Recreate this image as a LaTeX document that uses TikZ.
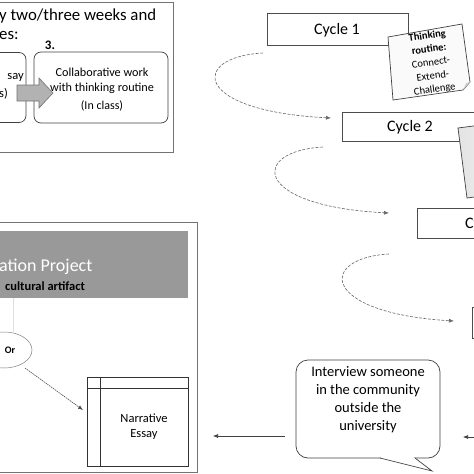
\documentclass[tikz,border=0pt]{standalone}
\usepackage{fontspec}
\setmainfont{Carlito}
\usetikzlibrary{arrows.meta,shapes.geometric}
\begin{document}
\begin{tikzpicture}[x=1pt,y=-1pt,
  outerbox/.style={draw=black!55,line width=0.9pt},
  innerbox/.style={draw=black!75,line width=0.7pt,rounded corners=7pt,fill=white},
  cyclebox/.style={draw=black!70,line width=0.9pt,fill=white},
  loop/.style={draw=black!60,line width=0.6pt,dash pattern=on 3pt off 1.5pt,-{Latex[length=5pt,width=4pt]}},
  plainarrow/.style={draw=black!75,line width=0.6pt,-{Latex[length=5pt,width=4pt]}},
  note/.style={draw=black!75,line width=0.7pt,fill=gray!4},
  txt/.style={inner sep=0pt,align=center}]
\useasboundingbox (0,0) rectangle (474,474);
\clip (0,0) rectangle (474,474);

% ---------- top-left panel ----------
\draw[outerbox] (-5,2) rectangle (173,152);
\node[txt,anchor=west,font=\fontsize{16.8}{20}\selectfont] (t1) at (-1,16) {y two/three weeks and};
\node[txt,anchor=west,font=\fontsize{16.8}{20}\selectfont] (t2) at (-1,35) {es:};
\node[txt,font=\bfseries\fontsize{13}{15}\selectfont] (n3) at (50,45) {3.};
\node[innerbox,minimum width=50pt,minimum height=70pt] (leftbox) at (1,87.5) {};
\node[txt,anchor=east,font=\fontsize{12.5}{14}\selectfont] (say) at (24,77) {say};
\node[txt,anchor=east,font=\fontsize{12.5}{14}\selectfont] (ss) at (8,94) {s)};
\node[innerbox,minimum width=134pt,minimum height=71pt] (collab) at (101,87.5) {};
\node[txt,font=\fontsize{12.2}{15}\selectfont] (collabtxt) at (102,80.5) {Collaborative work\\with thinking routine};
\node[txt,font=\fontsize{12}{14}\selectfont] (inclass) at (102,106) {(In class)};
\draw[draw=black!55,fill=gray!60,line width=0.6pt]
  (17,85) -- (39,85) -- (39,78) -- (53,93) -- (39,108) -- (39,101) -- (17,101) -- cycle;

% ---------- cycles ----------
\node[cyclebox,minimum width=141pt,minimum height=32pt] (c1) at (337.5,29) {};
\node[txt,font=\fontsize{16}{18}\selectfont] (c1t) at (337,30) {Cycle 1};
\draw[note] (388,37) -- (462,24) -- (470,82) -- (463,90) -- (393,100) -- cycle;
\fill[gray!35] (470,82) -- (463,90) -- (466,83) -- cycle;
\node[txt,rotate=8,font=\fontsize{10.5}{13.5}\selectfont] (note1) at (431,63)
  {\textbf{Thinking}\\\textbf{routine:}\\Connect-\\Extend-\\Challenge};

\node[cyclebox,minimum width=136pt,minimum height=29pt] (c2) at (410,126.5) {};
\node[txt,font=\fontsize{16}{18}\selectfont] (c2t) at (410,127) {Cycle 2};
\shade[left color=gray!22,right color=white,draw=black!75,line width=0.7pt]
  (458,128) -- (535,118) -- (545,188) -- (467,198) -- cycle;

\node[cyclebox,minimum width=138pt,minimum height=30pt] (c3) at (486,223) {};
\node[txt,font=\fontsize{16}{18}\selectfont] (c3t) at (488,224) {Cycle 3};

\node[cyclebox,minimum width=138pt,minimum height=31pt] (c4) at (541,322.5) {};

\coordinate (s1) at (263,53);  \coordinate (e1) at (331,118);
\coordinate (s2) at (323,147); \coordinate (e2) at (389,213);
\coordinate (s3) at (389,254); \coordinate (e3) at (454,321);
\draw[loop] (s1) .. controls (190,57) and (192,111) .. (e1);
\draw[loop] (s2) .. controls (250,151) and (252,206) .. (e2);
\draw[loop] (s3) .. controls (318,258) and (320,313) .. (e3);

% ---------- callout ----------
\node[draw=black!75,line width=0.7pt,rounded corners=12pt,fill=white,
      minimum width=144pt,minimum height=98pt] (callout) at (368,409) {};
\draw[white,line width=1.4pt] (381,458) -- (414,458);
\draw[draw=black!75,line width=0.7pt,fill=white] (380,458) -- (432,471) -- (415,458);
\node[txt,font=\fontsize{14.5}{18}\selectfont] (calltxt) at (368,400)
  {Interview someone\\in the community\\outside the\\university};

\coordinate (rin) at (480,437);
\draw[plainarrow] (rin) -- (463,437);
\coordinate (cl) at (285,436);
\draw[plainarrow] (cl) -- (213,436);

% ---------- bottom-left panel ----------
\draw[outerbox] (-5,222) rectangle (197,472);
\node[fill=gray!80,minimum width=193pt,minimum height=67pt,inner sep=0pt] (banner) at (91.5,264.5) {};
\node[txt,anchor=west,text=white,font=\fontsize{18}{20}\selectfont] (proj) at (-1,267) {ation Project};
\node[txt,anchor=west,font=\bfseries\fontsize{12.5}{14}\selectfont] (artifact) at (5,286) {cultural artifact};
\draw[gray!25,line width=0.5pt] (13,298) -- (13,332);
\node[draw=black!50,line width=0.5pt,ellipse,minimum width=56pt,minimum height=36pt,fill=white] (orell) at (4,350) {};
\node[txt,font=\bfseries\fontsize{10}{12}\selectfont] (ortxt) at (10,350) {Or};
\node[draw=black!80,line width=0.8pt,minimum width=101pt,minimum height=89pt,inner sep=0pt] (essay) at (137.5,421.5) {};
\draw[black!80,line width=0.8pt] (87,388) -- (188,388);
\draw[black!80,line width=0.8pt] (100,377) -- (100,466);
\node[txt,font=\fontsize{12.5}{15}\selectfont] (essaytxt) at (144,427) {Narrative\\Essay};
\draw[draw=black!70,line width=0.6pt,dash pattern=on 1.5pt off 0.8pt,-{Latex[length=5pt,width=4pt]}] (25,368) -- (83,410);
\end{tikzpicture}
\end{document}
